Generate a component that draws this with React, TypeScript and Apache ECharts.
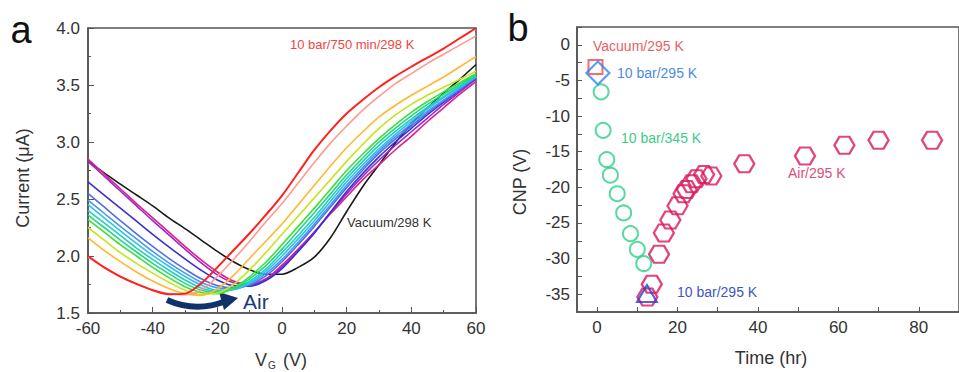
import React, { useEffect, useRef } from 'react';
import * as echarts from 'echarts';

// ---------- Panel a: transfer curves (I in µA at each gate voltage) ----------
const VOLTAGES = [-60, -55, -50, -45, -40, -35, -30, -25, -20, -15, -10, -5, 0, 5, 10, 15, 20, 25, 30, 35, 40, 45, 50, 55, 60];

const CURVE_BLACK = [2.83, 2.73, 2.63, 2.535, 2.44, 2.335, 2.24, 2.14, 2.04, 1.95, 1.88, 1.84, 1.84, 1.9, 1.99, 2.16, 2.39, 2.61, 2.8, 2.99, 3.16, 3.3, 3.43, 3.55, 3.68];
const CURVE_MAGENTA = [2.85, 2.72, 2.59, 2.46, 2.335, 2.21, 2.085, 1.965, 1.86, 1.78, 1.75, 1.8, 1.92, 2.06, 2.21, 2.37, 2.52, 2.67, 2.8, 2.93, 3.05, 3.18, 3.3, 3.42, 3.53];
const CURVE_PURPLE = [2.83, 2.7, 2.57, 2.44, 2.31, 2.185, 2.06, 1.94, 1.835, 1.765, 1.745, 1.79, 1.905, 2.05, 2.21, 2.38, 2.545, 2.7, 2.84, 2.97, 3.09, 3.21, 3.33, 3.44, 3.55];
const CURVE_DARKBLUE = [2.65, 2.535, 2.42, 2.305, 2.19, 2.08, 1.975, 1.875, 1.79, 1.74, 1.735, 1.785, 1.89, 2.04, 2.2, 2.385, 2.565, 2.725, 2.87, 3.0, 3.12, 3.24, 3.35, 3.455, 3.56];
const CURVE_BLUE2 = [2.55, 2.43, 2.31, 2.195, 2.085, 1.98, 1.885, 1.8, 1.74, 1.72, 1.745, 1.825, 1.95, 2.1, 2.26, 2.43, 2.6, 2.755, 2.9, 3.025, 3.14, 3.255, 3.36, 3.46, 3.565];
const CURVE_BLUE1 = [2.49, 2.375, 2.26, 2.15, 2.04, 1.94, 1.85, 1.77, 1.72, 1.71, 1.755, 1.845, 1.97, 2.12, 2.28, 2.45, 2.62, 2.775, 2.92, 3.045, 3.16, 3.27, 3.37, 3.47, 3.57];
const CURVE_CYAN = [2.45, 2.335, 2.22, 2.11, 2.005, 1.91, 1.82, 1.745, 1.7, 1.705, 1.765, 1.865, 2.0, 2.15, 2.31, 2.48, 2.65, 2.8, 2.94, 3.065, 3.18, 3.29, 3.39, 3.485, 3.575];
const CURVE_TEAL = [2.4, 2.29, 2.18, 2.07, 1.97, 1.875, 1.79, 1.72, 1.69, 1.71, 1.78, 1.885, 2.03, 2.18, 2.34, 2.51, 2.68, 2.83, 2.97, 3.09, 3.2, 3.305, 3.4, 3.49, 3.58];
const CURVE_GREENTEAL = [2.36, 2.25, 2.14, 2.035, 1.935, 1.845, 1.76, 1.7, 1.68, 1.715, 1.8, 1.915, 2.06, 2.22, 2.38, 2.545, 2.71, 2.86, 3.0, 3.12, 3.23, 3.33, 3.42, 3.505, 3.59];
const CURVE_GREEN = [2.32, 2.21, 2.1, 2.0, 1.9, 1.81, 1.73, 1.68, 1.67, 1.72, 1.82, 1.945, 2.1, 2.26, 2.42, 2.585, 2.75, 2.895, 3.03, 3.15, 3.26, 3.355, 3.44, 3.52, 3.6];
const CURVE_YELLOWGREEN = [2.25, 2.14, 2.03, 1.935, 1.85, 1.77, 1.7, 1.665, 1.675, 1.75, 1.88, 2.03, 2.19, 2.35, 2.51, 2.67, 2.83, 2.98, 3.12, 3.235, 3.33, 3.41, 3.48, 3.55, 3.62];
const CURVE_ORANGE = [2.16, 2.05, 1.95, 1.86, 1.78, 1.715, 1.67, 1.655, 1.71, 1.83, 1.98, 2.13, 2.28, 2.45, 2.62, 2.79, 2.95, 3.09, 3.22, 3.32, 3.41, 3.49, 3.57, 3.66, 3.75];
const CURVE_SALMON = [1.99, 1.9, 1.82, 1.755, 1.7, 1.67, 1.66, 1.7, 1.82, 1.97, 2.13, 2.3, 2.46, 2.64, 2.82, 2.99, 3.14, 3.28, 3.4, 3.51, 3.6, 3.69, 3.77, 3.85, 3.93];
const CURVE_RED = [2.0, 1.9, 1.82, 1.755, 1.7, 1.665, 1.67, 1.76, 1.9, 2.05, 2.2, 2.36, 2.53, 2.73, 2.93, 3.1, 3.25, 3.37, 3.48, 3.575, 3.66, 3.74, 3.82, 3.91, 4.0];

const CURVES = [
  CURVE_BLACK, CURVE_MAGENTA, CURVE_PURPLE, CURVE_DARKBLUE, CURVE_BLUE2, CURVE_BLUE1, CURVE_CYAN,
  CURVE_TEAL, CURVE_GREENTEAL, CURVE_GREEN, CURVE_YELLOWGREEN, CURVE_ORANGE, CURVE_SALMON, CURVE_RED,
];
const CURVE_COLORS = [
  '#1a1a1a', '#e0208a', '#9a28d0', '#3a30d0', '#5070e8', '#4a98f0', '#30c0f0',
  '#20d0b8', '#20d880', '#3ae03a', '#c4e41e', '#ffb830', '#ff9a90', '#ff2020',
];

// ---------- Panel b: CNP vs time ----------
const VAC_T = [-0.4];
const VAC_CNP = [-3.1];
const P10_T = [0.2];
const P10_CNP = [-3.95];
const HEAT_T = [1.0, 1.5, 2.4, 3.3, 5.0, 6.6, 8.3, 10.0, 11.6];
const HEAT_CNP = [-6.6, -12.0, -16.1, -18.3, -20.9, -23.6, -26.5, -28.7, -30.7];
const P10B_T = [12.4];
const P10B_CNP = [-34.9];
const AIR_T = [12.5, 13.6, 15.4, 16.6, 18.2, 20.0, 21.5, 22.3, 23.5, 24.7, 26.6, 28.4, 36.6, 51.7, 61.5, 70.0, 83.3];
const AIR_CNP = [-35.4, -33.6, -29.4, -26.4, -24.6, -22.6, -20.9, -20.3, -19.5, -18.8, -18.2, -18.4, -16.7, -15.6, -14.1, -13.4, -13.4];

const A_X_TICKS = { min: -60, max: 60, interval: 20 };
const A_Y_TICKS = { min: 1.5, max: 4.0, interval: 0.5 };
const B_X_LABELS = [0, 20, 40, 60, 80];
const B_X_TICKS = [0, 10, 20, 30, 40, 50, 60, 70, 80, 90];
const B_Y_LABELS = [0, -5, -10, -15, -20, -25, -30, -35];
const B_Y_TICKS = [2.5, 0, -2.5, -5, -7.5, -10, -12.5, -15, -17.5, -20, -22.5, -25, -27.5, -30, -32.5, -35];

const FONT = '"Liberation Sans", Arial, sans-serif';
const AXIS_COLOR = '#555';
const TXT = '#333';
const HEX = 'path://M0,8.66 L5,0 L15,0 L20,8.66 L15,17.32 L5,17.32 Z';

const zip = (a: number[], b: number[]) => a.map((v, i) => [v, b[i]]);

export default function App() {
  const ref = useRef<HTMLDivElement>(null);
  useEffect(() => {
    const chart = echarts.init(ref.current!, null, { renderer: 'svg' });
    const label = { color: TXT, fontSize: 17, fontFamily: FONT };
    const line = { onZero: false, lineStyle: { color: AXIS_COLOR, width: 1.6 } };
    const option: any = {
      animation: false,
      backgroundColor: '#fff',
      grid: [
        { left: 88, top: 28, width: 388, height: 285, show: true, borderColor: AXIS_COLOR, borderWidth: 1.6 },
        { left: 577, top: 27, width: 389.5, height: 285, show: true, borderColor: AXIS_COLOR, borderWidth: 1.6 },
      ],
      xAxis: [
        {
          type: 'value', gridIndex: 0, ...A_X_TICKS, axisLine: line,
          axisTick: { inside: true, length: 6, lineStyle: { color: AXIS_COLOR } },
          minorTick: { show: true, splitNumber: 2, length: 3, lineStyle: { color: AXIS_COLOR } },
          axisLabel: { ...label, margin: 7 }, splitLine: { show: false },
        },
        {
          type: 'value', gridIndex: 1, min: -5, max: 90, axisLine: line,
          axisTick: { inside: true, length: 5, customValues: B_X_TICKS, lineStyle: { color: AXIS_COLOR } },
          axisLabel: { ...label, margin: 7, customValues: B_X_LABELS }, splitLine: { show: false },
        },
      ],
      yAxis: [
        {
          type: 'value', gridIndex: 0, ...A_Y_TICKS, axisLine: line,
          axisTick: { inside: true, length: 6, lineStyle: { color: AXIS_COLOR } },
          minorTick: { show: true, splitNumber: 2, length: 3, lineStyle: { color: AXIS_COLOR } },
          axisLabel: { ...label, margin: 8, formatter: (v: number) => v.toFixed(1) }, splitLine: { show: false },
        },
        {
          type: 'value', gridIndex: 1, min: -37.5, max: 2.5, axisLine: line,
          axisTick: { inside: true, length: 5, customValues: B_Y_TICKS, lineStyle: { color: AXIS_COLOR } },
          axisLabel: { ...label, margin: 7, customValues: B_Y_LABELS }, splitLine: { show: false },
        },
      ],
      series: [
        ...CURVES.map((c, i) => ({
          type: 'line', xAxisIndex: 0, yAxisIndex: 0, data: zip(VOLTAGES, c), smooth: 0.3,
          showSymbol: false, symbol: 'none',
          lineStyle: { color: CURVE_COLORS[i], width: i === CURVES.length - 1 ? 2 : 1.6 },
          z: 2 + i,
        })),
        {
          type: 'scatter', xAxisIndex: 1, yAxisIndex: 1, data: zip(HEAT_T, HEAT_CNP), symbol: 'circle', symbolSize: 15,
          itemStyle: { color: 'rgba(0,0,0,0)', borderColor: '#2fd08a', borderWidth: 2 },
        },
        {
          type: 'scatter', xAxisIndex: 1, yAxisIndex: 1, data: zip(AIR_T, AIR_CNP), symbol: HEX, symbolSize: [20, 17],
          itemStyle: { color: 'rgba(0,0,0,0)', borderColor: '#d8185c', borderWidth: 2.2 },
        },
        {
          type: 'scatter', xAxisIndex: 1, yAxisIndex: 1, data: zip(P10B_T, P10B_CNP), symbol: 'triangle', symbolSize: [20, 17],
          itemStyle: { color: 'rgba(0,0,0,0)', borderColor: '#2a3cd0', borderWidth: 2 },
        },
        {
          type: 'scatter', xAxisIndex: 1, yAxisIndex: 1, data: zip(VAC_T, VAC_CNP), symbol: 'rect', symbolSize: 14,
          itemStyle: { color: 'rgba(0,0,0,0)', borderColor: '#f04848', borderWidth: 2 },
        },
        {
          type: 'scatter', xAxisIndex: 1, yAxisIndex: 1, data: zip(P10_T, P10_CNP), symbol: 'diamond', symbolSize: 23,
          itemStyle: { color: 'rgba(0,0,0,0)', borderColor: '#2f86f0', borderWidth: 2.2 },
        },
      ],
      graphic: [
        { type: 'text', x: 21, y: 30, style: { text: 'a', fontSize: 38, fontFamily: FONT, fill: '#111', align: 'center', verticalAlign: 'middle' } },
        { type: 'text', x: 518, y: 28, style: { text: 'b', fontSize: 38, fontFamily: FONT, fill: '#111', align: 'center', verticalAlign: 'middle' } },
        { type: 'text', x: 23, y: 178, rotation: Math.PI / 2, style: { text: 'Current (μA)', fontSize: 18, fontFamily: FONT, fill: TXT, align: 'center', verticalAlign: 'middle' } },
        { type: 'text', x: 255, y: 360, style: { text: 'V', fontSize: 18, fontFamily: FONT, fill: TXT, align: 'left', verticalAlign: 'middle' } },
        { type: 'text', x: 268, y: 365, style: { text: 'G', fontSize: 10, fontFamily: FONT, fill: TXT, align: 'left', verticalAlign: 'middle' } },
        { type: 'text', x: 283, y: 360, style: { text: '(V)', fontSize: 18, fontFamily: FONT, fill: TXT, align: 'left', verticalAlign: 'middle' } },
        { type: 'text', x: 520, y: 182, rotation: Math.PI / 2, style: { text: 'CNP (V)', fontSize: 18, fontFamily: FONT, fill: TXT, align: 'center', verticalAlign: 'middle' } },
        { type: 'text', x: 771, y: 358, style: { text: 'Time (hr)', fontSize: 18, fontFamily: FONT, fill: TXT, align: 'center', verticalAlign: 'middle' } },
        { type: 'text', x: 290, y: 44, style: { text: '10 bar/750 min/298 K', fontSize: 13, fontFamily: FONT, fill: '#f04545', align: 'left', verticalAlign: 'middle' } },
        { type: 'text', x: 347, y: 222, style: { text: 'Vacuum/298 K', fontSize: 13, fontFamily: FONT, fill: '#333', align: 'left', verticalAlign: 'middle' } },
        { type: 'text', x: 243, y: 301, style: { text: 'Air', fontSize: 21, fontFamily: FONT, fill: '#1a3a78', align: 'left', verticalAlign: 'middle' } },
        { type: 'bezierCurve', shape: { x1: 167, y1: 300, x2: 226, y2: 301, cpx1: 196, cpy1: 313 }, style: { stroke: '#12306a', lineWidth: 6, fill: null } },
        { type: 'polygon', shape: { points: [[219, 292], [238, 298], [224, 310]] }, style: { fill: '#12306a' } },
        { type: 'text', x: 593, y: 46, style: { text: 'Vacuum/295 K', fontSize: 14, fontFamily: FONT, fill: '#e86262', align: 'left', verticalAlign: 'middle' } },
        { type: 'text', x: 617, y: 73, style: { text: '10 bar/295 K', fontSize: 14, fontFamily: FONT, fill: '#4a8ce6', align: 'left', verticalAlign: 'middle' } },
        { type: 'text', x: 621, y: 138, style: { text: '10 bar/345 K', fontSize: 14, fontFamily: FONT, fill: '#3dcc85', align: 'left', verticalAlign: 'middle' } },
        { type: 'text', x: 788, y: 173, style: { text: 'Air/295 K', fontSize: 14, fontFamily: FONT, fill: '#d9507a', align: 'left', verticalAlign: 'middle' } },
        { type: 'text', x: 677, y: 292, style: { text: '10 bar/295 K', fontSize: 14, fontFamily: FONT, fill: '#4055c8', align: 'left', verticalAlign: 'middle' } },
      ],
    };
    chart.setOption(option);
    return () => chart.dispose();
  }, []);
  return <div ref={ref} style={{ position: 'fixed', left: 0, top: 0, width: 959, height: 372, background: '#fff' }} />;
}
